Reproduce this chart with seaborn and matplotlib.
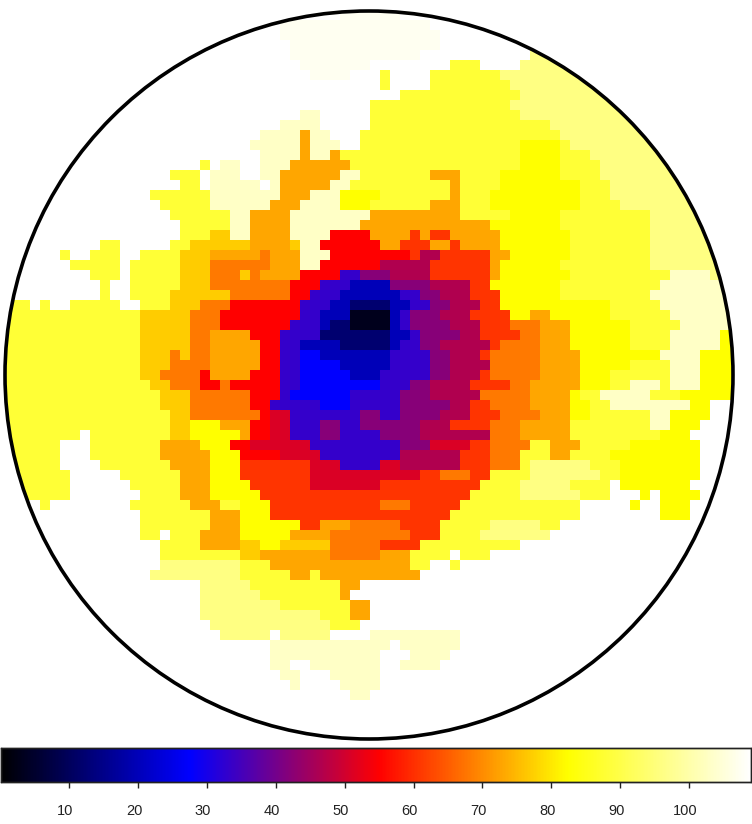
import re
from matplotlib import pyplot as plt
from matplotlib.colors import LinearSegmentedColormap
from matplotlib.patches import Circle
from matplotlib.transforms import ScaledTranslation
import seaborn as sns
import numpy as np

# value of each band seen in the map
level_names = list('ABCDEFGHIJKLMNOPQRW')
level_values = [3, 12, 20, 27.5, 33, 42, 46.5, 51, 55, 60.5, 68, 73, 77, 82.5, 88, 96, 103, 107.5, 109]

# map rows, top to bottom, run lengths per row: letter + number of cells
rows = [
    "W75", "W34 R6", "W28 R15", "W28 R16", "W29 R15", "W29 R13 W11 P3",
    "W30 R7 W8 O3 W4 P5", "W31 R4 W3 O1 W4 O7 P9", "W38 O1 W4 O8 P9",
    "W40 O12 P10", "W37 O14 P11", "W30 Q2 W5 O15 P11", "W28 Q4 W5 O18 P16",
    "W26 Q4 L1 Q2 W3 O20 P15", "W25 Q5 L1 Q3 W2 O16 N4 O1 P15",
    "W26 Q4 L1 Q2 L1 O18 N4 O3 P15", "W20 O1 W1 Q2 W2 Q3 L6 O17 N4 O4 P15",
    "W17 O3 W1 Q3 W2 Q2 L6 Q2 O7 L3 O4 N6 O4 P15",
    "W18 O2 W1 Q5 W1 Q1 L5 Q2 O10 L1 O4 N8 O3 P15",
    "W15 O6 Q7 L3 Q3 N4 O7 L1 O3 N9 O3 P15",
    "W16 O5 Q6 L3 Q4 N3 O6 L3 O3 N9 O4 P15",
    "W17 O6 Q2 L4 Q8 L9 O5 N5 O9 P10", "W18 O5 Q2 L4 Q7 L13 N7 O9 P10",
    "W18 O3 M2 Q2 L4 Q4 I4 L4 J1 L1 J2 L5 N7 O8 P10",
    "W10 O2 W5 O2 M6 L4 M1 Q2 I6 L2 J3 L2 J1 L4 N7 O8 P10",
    "W6 O1 W2 O3 W2 O4 M3 L5 K1 L3 Q3 I8 J1 G2 J5 L2 N6 O8 P10",
    "W7 O5 W1 O5 M3 K6 L3 Q2 I6 G5 J6 L1 N6 O9 P10",
    "W9 O3 W1 O5 M3 K3 M1 K1 L4 I4 E2 F3 G4 J6 L1 N7 O10 Q4 P4",
    "W10 O1 W2 O5 M3 K8 I3 E3 C4 F4 G4 J2 N7 O10 Q9",
    "W10 O1 W2 O4 M6 K6 I2 E3 C6 E2 F2 G3 J3 N6 O9 Q11",
    "W1 O2 W1 O1 W2 O5 W2 O3 M3 K3 I7 E3 C2 B4 C2 E2 F2 G3 J2 N11 O5 Q10",
    "O14 M5 K3 I8 E2 C3 A4 C1 E1 F3 G3 J4 N2 L2 N6 O6 Q8",
    "O14 M5 K3 I7 E3 C1 B2 A4 C1 E1 F4 G3 J3 K3 L3 N6 O5 Q7",
    "O14 M5 K2 L4 I3 E4 B7 C2 E1 F4 G2 J4 K2 L3 N6 O4 Q5 N4",
    "O14 M5 K2 L5 I2 E2 C4 B5 C1 E2 F2 G5 J1 K4 L3 N6 O4 Q5 N3",
    "O14 M3 K1 M1 K2 L5 I2 E2 D2 C7 E4 F2 G3 J1 K5 L4 N8 Q4 N6",
    "O14 M3 K4 L5 I2 E2 D4 C5 E4 F2 G4 K5 L4 N5 O4 Q3 N6",
    "O14 M2 K4 I1 L4 I3 E2 D5 C3 E5 F2 G3 J1 K5 L4 N3 O6 Q3 N6",
    "O15 M2 K3 I2 K1 I5 E2 D8 E3 F2 G4 J4 K2 L5 N3 O2 Q3 O1 Q3 N7",
    "O16 M3 K6 I3 E1 D6 E5 F3 G5 K5 L4 N1 O2 Q5 O3 N7",
    "O16 M3 K6 I2 E5 D3 E5 F5 G2 J2 K4 L4 N2 O2 Q8 N2 W3",
    "O17 M2 K7 I1 H2 E7 F2 E2 F4 G3 J3 K4 L3 N2 O6 Q2 N4 W4",
    "O17 M2 N3 L3 I2 H2 E3 F2 E2 F6 G3 J4 K3 L5 O8 Q2 N3",
    "O8 W1 O8 M2 N5 L1 I2 H2 E3 F2 E4 F4 G7 K3 L5 O9 N3",
    "O6 W3 O7 L4 N3 I2 H6 E9 F3 H4 J2 K4 O2 L3 O5 N7",
    "O6 W3 O7 L5 N3 I4 H4 E8 G6 J3 K3 O3 L2 O4 N9",
    "O6 W4 O7 L4 N3 J7 H3 E4 H2 G6 J3 K3 O1 P6 O3 N8",
    "O7 W5 O6 L3 N3 J7 H11 J2 K3 J2 O4 P7 O2 N8",
    "O7 W6 O5 L3 N4 J6 H7 J10 O4 P5 O4 W1 N7",
    "O7 W7 O4 L3 N5 J21 O5 P6 O3 W3 N1 W1 N4",
    "W4 O1 W8 O6 L3 O2 N3 J11 K3 J5 O12 W5 N1 W2 N3",
    "W14 O7 L3 N3 J18 O13 W8 N3",
    "W14 O7 L3 N6 J2 L3 K5 J4 O5 P5 O2",
    "W14 O2 W1 O3 L4 N5 L4 K8 J3 O4 P7",
    "W16 O4 L4 M2 N2 M5 K5 J4 O10",
    "W16 O8 M2 L7 K5 L3 O4 W1 O3",
    "W16 P8 O3 L14 O2 W2 O1",
    "W15 P9 O5 L2 O1 L10",
    "W20 P5 O9 L2", "W20 P6 O8 L1", "W20 P8 O7 L2", "W20 P12 O3 L2", "W21 P12 O3",
    "W22 P5 W1 P5 W4 Q9", "W27 Q12 W1 Q6", "W27 Q11 W3 Q4",
    "W27 Q2 W2 Q7 W2 Q4", "W28 Q2 W3 Q5", "W29 Q1 W4 Q4", "W35 Q2",
    "W75", "W75", "W75", "W75", "W75",
]

bar_ticks = [10, 20, 30, 40, 50, 60, 70, 80, 90, 100]
value_min = 0
value_max = 109

n_cols = 75
lookup = dict(zip(level_names, level_values))
grid = np.full((len(rows), n_cols), 109.0)
for i, row in enumerate(rows):
    j = 0
    for name, count in re.findall(r'([A-Z])(\d+)', row):
        grid[i, j:j + int(count)] = lookup[name]
        j += int(count)

# black - blue - red - yellow - white
cmap = LinearSegmentedColormap.from_list('bbryw', [
    (0, '#000000'), (27.5 / 109, '#0000ff'), (55 / 109, '#ff0000'),
    (82.5 / 109, '#ffff00'), (1, '#ffffff')], N=512)

sns.set_style('white')
plt.rcParams['font.family'] = ['Liberation Sans', 'DejaVu Sans']

W, H = 752, 824
fig = plt.figure(figsize=(W / 100, H / 100), dpi=100)
ax = fig.add_axes([0, (H - 750) / H, 750 / W, 750 / H])
cax = fig.add_axes([0.5 / W, (H - 781.5) / H, 750.5 / W, 33.5 / H])

sns.heatmap(grid, ax=ax, cmap=cmap, vmin=value_min, vmax=value_max,
            xticklabels=False, yticklabels=False, cbar_ax=cax,
            cbar_kws={'orientation': 'horizontal', 'ticks': bar_ticks})

# the map only lives inside the circle
ax.collections[0].set_clip_path(Circle((36.9, 37.5), 36.4, transform=ax.transData))
ax.add_patch(Circle((36.9, 37.5), 36.4, fill=False, ec='black', lw=2.6, clip_on=False))
ax.set_axis_off()

cax.tick_params(axis='x', length=4, width=1, color='#222222', pad=12,
                labelsize=10.5, labelcolor='#222222')
for s in cax.spines.values():
    s.set_visible(True)
    s.set_color('#222222')
    s.set_linewidth(1)
shift = ScaledTranslation(-4 / 100, 0, fig.dpi_scale_trans)
for lab in cax.get_xticklabels():
    lab.set_transform(lab.get_transform() + shift)

fig.savefig('out.png', dpi=100)
